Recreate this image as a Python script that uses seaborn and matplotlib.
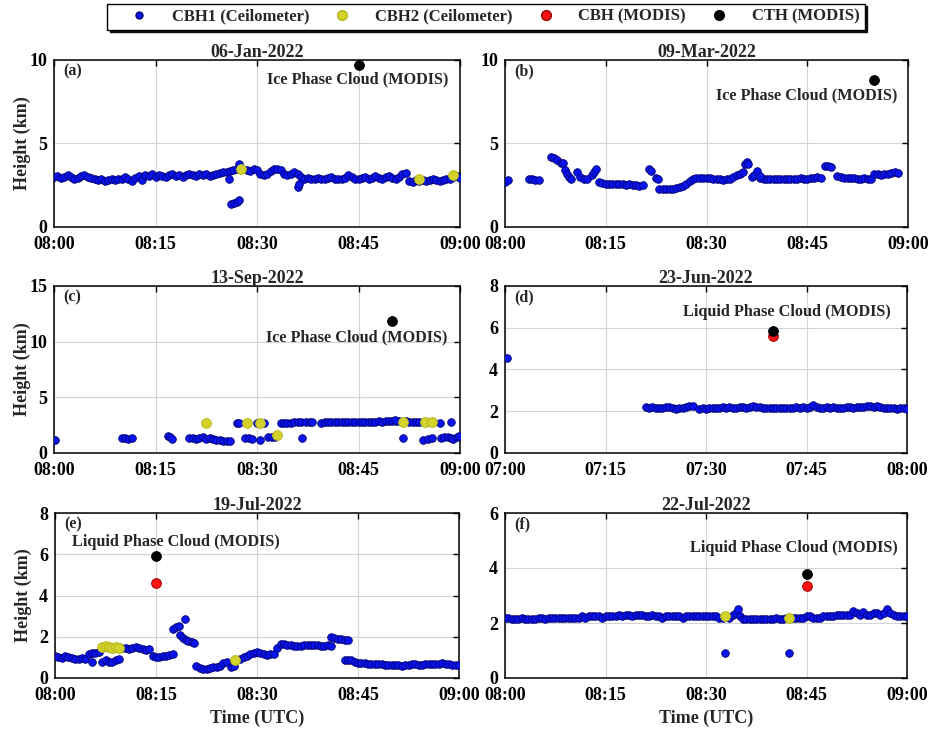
import numpy as np
import pandas as pd
import matplotlib
matplotlib.use("Agg")
import matplotlib.pyplot as plt
import seaborn as sns
from matplotlib.lines import Line2D

# ---------------- DATA (minutes after start hour, height km) ----------------
TITLES = ["06-Jan-2022", "09-Mar-2022", "13-Sep-2022", "23-Jun-2022", "19-Jul-2022", "22-Jul-2022"]
PANEL_LABELS = ["(a)", "(b)", "(c)", "(d)", "(e)", "(f)"]
START_HOURS = [8, 8, 8, 7, 8, 8]
PHASE_TEXT = ["Ice Phase Cloud (MODIS)", "Ice Phase Cloud (MODIS)", "Ice Phase Cloud (MODIS)",
              "Liquid Phase Cloud (MODIS)", "Liquid Phase Cloud (MODIS)", "Liquid Phase Cloud (MODIS)"]
Y_TICKS = [[0, 5, 10], [0, 5, 10], [0, 5, 10, 15], [0, 2, 4, 6, 8], [0, 2, 4, 6, 8], [0, 2, 4, 6]]
X_TICKS = [0, 15, 30, 45, 60]
SERIES_NAMES = ["CBH1 (Ceilometer)", "CBH2 (Ceilometer)", "CBH (MODIS)", "CTH (MODIS)"]

# Panel (a) 06-Jan-2022 : CBH1 sampled every 0.5 min
A_CBH1_SEGS = [(0.0, [3.0, 3.05, 2.95, 3.0, 3.1, 3.0, 2.9, 2.95, 3.05, 3.1, 3.0, 2.95, 2.85,
                      2.8, 2.85, 2.75, 2.8, 2.9, 2.8, 2.85,
                      2.9, 3.0, 2.85, 2.75, 2.95, 3.05, 2.8,
                      3.1, 3.05, 3.15, 3.0, 3.1, 3.05, 3.0, 3.1, 3.15, 3.05, 3.1, 3.0,
                      3.1, 3.15, 3.1, 3.05, 3.2, 3.1, 3.15, 3.05, 3.1, 3.2, 3.25, 3.3, 3.3,
                      3.35, 3.4, 3.45, 3.45,
                      3.45, 3.4, 3.35, 3.45, 3.4,
                      3.15, 3.1, 3.2,
                      3.35, 3.45, 3.5, 3.4,
                      3.2, 3.1, 3.15, 3.3,
                      3.2, 3.0, 2.9, 2.95, 2.85, 2.9, 2.95, 2.9, 2.85,
                      2.95, 3.0, 2.9, 2.85, 2.9, 2.95, 3.1, 3.0, 2.9, 2.85, 2.95, 3.0, 2.9, 2.95,
                      3.05, 2.95, 2.9, 3.0, 3.05, 2.95, 2.9, 3.0,
                      3.2, 3.25,
                      2.75, 2.7, 2.8, 2.75,
                      2.8, 2.75, 2.8, 2.85, 2.8, 2.75, 2.8, 2.85, 2.9,
                      3.0, 3.05, 2.95])]
A_CBH1_T = [25.9, 26.2, 26.6, 27.0, 27.4, 27.4, 36.0, 36.2]
A_CBH1_H = [2.9, 1.4, 1.45, 1.5, 1.6, 3.8, 2.4, 2.6]
A_CBH2_T = [27.6, 54.0, 59.0]
A_CBH2_H = [3.45, 2.9, 3.1]
A_CBH_T, A_CBH_H = [], []
A_CTH_T, A_CTH_H = [45.0], [9.7]

# Panel (b) 09-Mar-2022
B_CBH1_SEGS = [(0.0, [2.7, 2.8]),
               (3.5, [2.85, 2.85, 2.8, 2.8]),
               (14.0, [2.7, 2.65, 2.6, 2.6, 2.6, 2.55, 2.6, 2.55, 2.5, 2.55, 2.5, 2.5, 2.45, 2.5]),
               (23.0, [2.25, 2.25, 2.3, 2.25, 2.3, 2.35, 2.4, 2.45]),
               (27.0, [2.6, 2.75, 2.9, 2.95, 2.95, 2.95, 2.95]),
               (30.5, [2.95, 2.9, 2.9, 2.85, 2.8, 2.85, 2.9, 3.0, 3.1, 3.2, 3.3]),
               (38.0, [2.95, 2.9, 2.9, 2.85, 2.85, 2.9, 2.9, 2.9, 2.9, 2.9, 2.9, 2.9, 2.95, 2.9,
                       2.9, 2.95, 2.95, 3.0, 2.95]),
               (49.5, [3.05, 3.0, 2.95, 2.95, 2.95, 2.95, 2.9, 2.9, 2.95, 2.9, 2.85]),
               (55.0, [3.2, 3.15, 3.1, 3.15, 3.2, 3.25, 3.3, 3.25])]
B_CBH1_T = [6.8, 7.3, 7.8, 8.3, 8.6, 9.0, 9.3, 9.6, 9.9, 10.7, 11.2, 11.7, 12.2, 12.9, 13.3, 13.6,
            21.4, 21.7, 22.5, 22.8, 35.7, 36.0, 36.2, 36.8, 37.1, 37.5, 37.9, 47.6, 48.1, 48.6]
B_CBH1_H = [4.2, 4.15, 4.0, 3.85, 3.85, 3.4, 3.2, 3.0, 2.85, 3.3, 3.0, 2.9, 2.85, 3.1, 3.3, 3.45,
            3.45, 3.35, 2.95, 2.9, 3.8, 3.9, 3.75, 3.0, 3.1, 3.35, 3.05, 3.65, 3.65, 3.6]
B_CBH2_T, B_CBH2_H = [], []
B_CBH_T, B_CBH_H = [], []
B_CTH_T, B_CTH_H = [55.0], [8.8]

# Panel (c) 13-Sep-2022
C_CBH1_SEGS = [(10.0, [1.35, 1.35, 1.3, 1.35]),
               (20.0, [1.35, 1.35, 1.3, 1.35, 1.4, 1.3, 1.35, 1.25, 1.2, 1.15, 1.1, 1.1, 1.05]),
               (33.5, [2.65, 2.7, 2.7, 2.7, 2.75, 2.75, 2.8]),
               (39.5, [2.7, 2.75, 2.75, 2.75, 2.75, 2.75, 2.75, 2.75, 2.75, 2.75, 2.75, 2.8, 2.8,
                       2.8, 2.8, 2.8, 2.8, 2.85, 2.8, 2.85, 2.85, 2.85, 2.9, 2.85]),
               (52.0, [2.85, 2.8, 2.8, 2.8, 2.8, 2.75, 2.8, 2.8, 2.8])]
C_CBH1_T = [0.2, 16.9, 17.2, 17.5, 27.0, 27.4, 30.0, 30.5, 31.0, 28.3, 28.8, 29.2, 30.4, 31.6, 32.2,
            32.7, 36.6, 37.3, 37.8, 38.2, 50.4, 57.0, 58.7, 51.6, 54.6, 55.3, 55.9, 57.2, 57.7,
            58.2, 58.6, 59.0, 59.5, 59.8]
C_CBH1_H = [1.2, 1.55, 1.45, 1.3, 2.7, 2.65, 2.65, 2.7, 2.7, 1.35, 1.35, 1.3, 1.2, 1.4, 1.45,
            1.4, 1.35, 2.75, 2.75, 2.75, 3.0, 2.7, 2.8, 1.35, 1.15, 1.3, 1.35, 1.35, 1.4,
            1.4, 1.35, 1.3, 1.45, 1.55]
C_CBH2_T = [22.5, 28.5, 30.4, 32.9, 51.6, 54.8, 55.8]
C_CBH2_H = [2.65, 2.65, 2.7, 1.6, 2.8, 2.75, 2.75]
C_CBH_T, C_CBH_H = [], []
C_CTH_T, C_CTH_H = [50.0], [11.9]

# Panel (d) 23-Jun-2022 (07:00-08:00)
D_CBH1_SEGS = [(21.0, [2.2, 2.15, 2.2, 2.15, 2.15, 2.15, 2.2, 2.2, 2.15, 2.1, 2.15, 2.15, 2.2, 2.25, 2.25]),
               (29.0, [2.1, 2.15, 2.1, 2.15, 2.15, 2.15, 2.15, 2.2, 2.15, 2.2, 2.15, 2.15, 2.2, 2.2, 2.15,
                       2.2, 2.25, 2.2, 2.2, 2.15, 2.15, 2.15, 2.15,
                       2.15, 2.15, 2.15, 2.15, 2.15, 2.15, 2.2, 2.15, 2.2, 2.15, 2.2, 2.3,
                       2.2, 2.15, 2.15, 2.2, 2.15, 2.2, 2.15, 2.15, 2.15, 2.2, 2.2, 2.15,
                       2.2, 2.2, 2.2, 2.25, 2.25, 2.2, 2.25, 2.2, 2.15, 2.15, 2.15, 2.15, 2.1, 2.15,
                       2.15, 2.1])]
D_CBH1_T = [0.3]
D_CBH1_H = [4.55]
D_CBH2_T, D_CBH2_H = [], []
D_CBH_T, D_CBH_H = [40.0], [5.6]
D_CTH_T, D_CTH_H = [40.0], [5.85]

# Panel (e) 19-Jul-2022
E_CBH1_SEGS = [(0.0, [1.05, 1.0, 0.95, 1.05, 1.0, 0.95, 0.9, 0.9, 0.95, 0.9]),
               (5.0, [1.15, 1.2, 1.2, 1.25]),
               (7.0, [0.8, 0.85, 0.8, 0.8, 0.85, 0.9]),
               (7.0, [1.45, 1.5, 1.45, 1.5, 1.45, 1.5]),
               (10.0, [1.45, 1.45, 1.4, 1.45, 1.5, 1.45, 1.4, 1.35, 1.4]),
               (14.5, [1.05, 1.0, 1.0, 1.05, 1.05, 1.1, 1.15]),
               (21.0, [0.6, 0.5, 0.45, 0.45, 0.5, 0.55, 0.55, 0.6, 0.75, 0.8]),
               (27.5, [0.9, 1.0, 1.05, 1.15, 1.2, 1.25, 1.2, 1.15, 1.1, 1.15, 1.15]),
               (33.0, [1.45, 1.65, 1.65, 1.6, 1.6, 1.55, 1.55, 1.55, 1.6, 1.6, 1.6, 1.6, 1.6, 1.55,
                       1.55, 1.6, 1.55]),
               (41.0, [2.0, 1.95, 1.9, 1.9, 1.85, 1.85]),
               (43.0, [0.85, 0.85, 0.85, 0.8, 0.75, 0.75, 0.75, 0.7, 0.7, 0.7, 0.7, 0.7, 0.65, 0.65,
                       0.65, 0.65, 0.65, 0.6, 0.65, 0.65, 0.7, 0.7, 0.65, 0.65, 0.7, 0.7, 0.7, 0.7,
                       0.7, 0.75, 0.7, 0.7, 0.65, 0.65, 0.65])]
E_CBH1_T = [5.5, 17.5, 18.0, 18.4, 19.3, 18.6, 19.0, 19.4, 19.8, 20.3, 20.6, 26.2, 26.6]
E_CBH1_H = [0.8, 2.4, 2.45, 2.5, 2.85, 2.1, 1.95, 1.85, 1.8, 1.75, 1.7, 0.55, 0.6]
E_CBH2_T = [7.0, 7.5, 8.0, 8.5, 9.0, 9.5, 26.8]
E_CBH2_H = [1.5, 1.55, 1.5, 1.45, 1.5, 1.45, 0.85]
E_CBH_T, E_CBH_H = [15.0], [4.6]
E_CTH_T, E_CTH_H = [15.0], [5.9]

# Panel (f) 22-Jul-2022
F_CBH1_SEGS = [(0.0, [2.2, 2.2, 2.15, 2.15, 2.15, 2.2, 2.15, 2.15, 2.15, 2.15, 2.2, 2.2, 2.15, 2.2, 2.2,
                      2.2, 2.2, 2.2, 2.2, 2.2, 2.2,
                      2.2, 2.2, 2.25, 2.2, 2.25, 2.25, 2.25, 2.25, 2.2, 2.25, 2.25, 2.25, 2.25, 2.3,
                      2.25, 2.3, 2.3, 2.25, 2.3, 2.3,
                      2.3, 2.25, 2.25, 2.3, 2.25, 2.25, 2.2, 2.25, 2.25, 2.25, 2.25, 2.25, 2.2, 2.25,
                      2.25, 2.25, 2.25, 2.25, 2.25, 2.25,
                      2.25, 2.25, 2.25, 2.2, 2.2, 2.25, 2.2, 2.3,
                      2.35, 2.25, 2.15, 2.15,
                      2.15, 2.15, 2.15, 2.15, 2.15, 2.15, 2.15, 2.15, 2.2, 2.15, 2.15, 2.2,
                      2.2, 2.2, 2.2, 2.2, 2.2, 2.25, 2.25, 2.2, 2.2, 2.2, 2.25, 2.25, 2.25, 2.25,
                      2.3, 2.3, 2.3, 2.3, 2.3,
                      2.45, 2.35, 2.3, 2.4, 2.3, 2.3, 2.35, 2.35, 2.3, 2.35, 2.5, 2.35, 2.3, 2.25,
                      2.25, 2.25, 2.25])]
F_CBH1_T = [34.8, 32.8, 42.4]
F_CBH1_H = [2.5, 0.9, 0.9]
F_CBH2_T = [32.8, 42.4]
F_CBH2_H = [2.25, 2.2]
F_CBH_T, F_CBH_H = [45.0], [3.35]
F_CTH_T, F_CTH_H = [45.0], [3.8]

# ---------------- STYLE ----------------
sns.set_theme(style="white")
plt.rcParams['font.family'] = ['Liberation Serif', 'DejaVu Serif']
plt.rcParams['font.weight'] = 'bold'
plt.rcParams['axes.labelweight'] = 'bold'
plt.rcParams['axes.titleweight'] = 'bold'

BLUE, BLUE_E = '#0a14f0', '#00006e'
YEL, YEL_E = '#d2d22a', '#b5b520'
RED, RED_E = '#ff1010', '#8b0000'
BLK = '#000000'


def expand(segs, extra_t, extra_h):
    t, h = [], []
    for start, vals in segs:
        for i, v in enumerate(vals):
            t.append(start + 0.5 * i)
            h.append(v)
    return t + list(extra_t), h + list(extra_h)


panels = [
    (A_CBH1_SEGS, A_CBH1_T, A_CBH1_H, A_CBH2_T, A_CBH2_H, A_CBH_T, A_CBH_H, A_CTH_T, A_CTH_H),
    (B_CBH1_SEGS, B_CBH1_T, B_CBH1_H, B_CBH2_T, B_CBH2_H, B_CBH_T, B_CBH_H, B_CTH_T, B_CTH_H),
    (C_CBH1_SEGS, C_CBH1_T, C_CBH1_H, C_CBH2_T, C_CBH2_H, C_CBH_T, C_CBH_H, C_CTH_T, C_CTH_H),
    (D_CBH1_SEGS, D_CBH1_T, D_CBH1_H, D_CBH2_T, D_CBH2_H, D_CBH_T, D_CBH_H, D_CTH_T, D_CTH_H),
    (E_CBH1_SEGS, E_CBH1_T, E_CBH1_H, E_CBH2_T, E_CBH2_H, E_CBH_T, E_CBH_H, E_CTH_T, E_CTH_H),
    (F_CBH1_SEGS, F_CBH1_T, F_CBH1_H, F_CBH2_T, F_CBH2_H, F_CBH_T, F_CBH_H, F_CTH_T, F_CTH_H),
]

W, H = 932, 729
fig = plt.figure(figsize=(W / 100, H / 100), dpi=100)

# axes boxes in pixels: (left, right, top, bottom)
boxes = [(54, 460, 60, 227), (505, 908, 60, 227),
         (54, 460, 286, 453), (505, 907, 286, 453),
         (55, 459, 513, 678), (505, 907, 513, 678)]
text_pos = [(0.748, 0.886), (0.748, 0.790), (0.745, 0.690), (0.700, 0.844), (0.300, 0.822), (0.719, 0.790)]

for i, (box, pdata) in enumerate(zip(boxes, panels)):
    l, r, t, b = box
    ax = fig.add_axes([l / W, 1 - b / H, (r - l) / W, (b - t) / H])
    segs, et, eh, c2t, c2h, cbt, cbh, ctt, cth = pdata
    t1, h1 = expand(segs, et, eh)
    ax.set_axisbelow(True)
    sns.scatterplot(x=t1, y=h1, ax=ax, color=BLUE, s=30, edgecolor=BLUE_E, linewidth=0.6, zorder=3)
    if c2t:
        sns.scatterplot(x=c2t, y=c2h, ax=ax, color=YEL, s=50, edgecolor=YEL_E, linewidth=0.6, zorder=4)
    if cbt:
        sns.scatterplot(x=cbt, y=cbh, ax=ax, color=RED, s=50, edgecolor=RED_E, linewidth=0.6, zorder=5)
    if ctt:
        sns.scatterplot(x=ctt, y=cth, ax=ax, color=BLK, s=50, edgecolor=BLK, linewidth=0.6, zorder=6)

    yt = Y_TICKS[i]
    ax.set_xlim(0, 60)
    ax.set_ylim(yt[0], yt[-1])
    ax.set_yticks(yt)
    ax.set_xticks(X_TICKS)
    hr = START_HOURS[i]
    ax.set_xticklabels([f"{hr + m // 60:02d}:{m % 60:02d}" for m in X_TICKS])
    ax.grid(True, color='#d4d4d4', linewidth=0.8)
    for sp in ax.spines.values():
        sp.set_color('black')
        sp.set_linewidth(1.1)
    ax.tick_params(direction='in', length=4, width=1, top=True, right=True,
                   labelsize=13, colors='black')
    ax.tick_params(axis='y', pad=5)
    ax.tick_params(axis='x', pad=6.5)
    for lab in ax.get_xticklabels() + ax.get_yticklabels():
        lab.set_fontweight('bold')
    ax.set_title(TITLES[i], fontsize=13, fontweight='bold', pad=2)
    ax.text(0.022, 0.93, PANEL_LABELS[i], transform=ax.transAxes, ha='left', va='center',
            fontsize=11.5, fontweight='bold')
    ax.text(text_pos[i][0], text_pos[i][1], PHASE_TEXT[i], transform=ax.transAxes,
            ha='center', va='center', fontsize=11.7, fontweight='bold')
    if i % 2 == 0:
        ax.set_ylabel("Height (km)", fontsize=13, fontweight='bold', va='center')
        ax.yaxis.set_label_coords(-0.079, 0.5)
    else:
        ax.set_ylabel("")
    if i >= 4:
        ax.set_xlabel("Time (UTC)", fontsize=13, fontweight='bold', va='center')
        ax.xaxis.set_label_coords(0.5, -0.245)
    else:
        ax.set_xlabel("")

handles = [
    Line2D([], [], linestyle='none', marker='o', markersize=5, markerfacecolor=BLUE, markeredgecolor=BLUE_E),
    Line2D([], [], linestyle='none', marker='o', markersize=7, markerfacecolor=YEL, markeredgecolor=YEL_E),
    Line2D([], [], linestyle='none', marker='o', markersize=7, markerfacecolor=RED, markeredgecolor=RED_E),
    Line2D([], [], linestyle='none', marker='o', markersize=7, markerfacecolor=BLK, markeredgecolor=BLK),
]
leg = fig.legend(handles, SERIES_NAMES, loc='center', bbox_to_anchor=(486 / W, 1 - 16.5 / H),
                 ncol=4, frameon=True, fancybox=False, handlelength=3.2, handletextpad=0.35,
                 columnspacing=0.4, borderpad=0.3, prop={'family': 'Liberation Serif', 'weight': 'bold', 'size': 12},
                 shadow={'color': 'black', 'alpha': 0.9, 'ox': 2, 'oy': -2})
leg.get_frame().set_edgecolor('black')
leg.get_frame().set_linewidth(1.0)

fig.savefig("out.png", dpi=100)
